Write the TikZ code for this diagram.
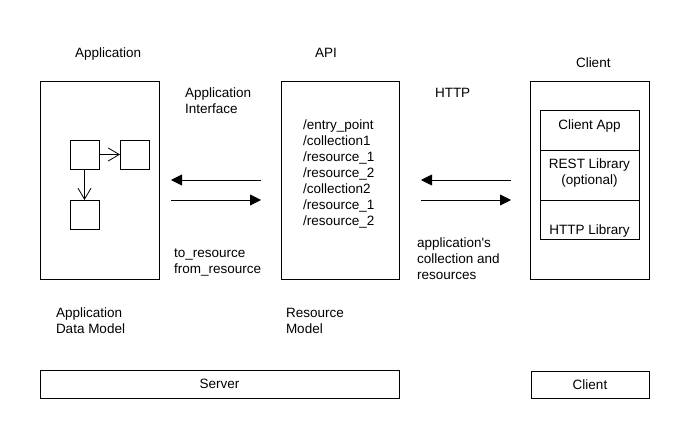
\documentclass[tikz,border=0pt]{standalone}
\usepackage{fontspec}
\setmainfont{Liberation Sans}
\usetikzlibrary{arrows.meta}
\begin{document}
\begin{tikzpicture}[x=1pt,y=-1pt,
  every node/.style={font=\fontsize{13.5}{16}\selectfont, inner sep=0pt, outer sep=0pt},
  box/.style={draw, line width=0.9pt, rectangle},
  lbl/.style={anchor=base west, align=left},
  link/.style={line width=0.9pt, -{Triangle[length=11pt,width=11pt]}},
  openlink/.style={line width=0.8pt, -{Straight Barb[length=11pt,width=13pt,line width=0.8pt]}}
]
\useasboundingbox (0,0) rectangle (696,435);

% main boxes
\node[box, minimum width=119pt, minimum height=198pt] (app) at (99.5,180) {};
\node[box, minimum width=118pt, minimum height=198pt] (api) at (340,180) {};
\node[box, minimum width=119pt, minimum height=198pt] (client) at (589.5,180) {};

% inner squares of application
\node[box, minimum width=29pt, minimum height=29pt] (s1) at (84.5,154.5) {};
\node[box, minimum width=29pt, minimum height=29pt] (s2) at (134.5,154.5) {};
\node[box, minimum width=29pt, minimum height=29pt] (s3) at (84.5,214.5) {};
\draw[openlink] (s1) -- (s2);
\draw[openlink] (s1) -- (s3);

% client stack
\node[box, minimum width=99pt, minimum height=40pt] (capp) at (589.5,130) {};
\node[box, minimum width=99pt, minimum height=50pt] (rest) at (589.5,175) {};
\node[box, minimum width=99pt, minimum height=39pt] (hlib) at (589.5,219.5) {};
\node (capptxt) at (589.5,126) {Client App};
\node[align=center] (resttxt) at (589.5,173) {REST Library\\(optional)};
\node (hlibtxt) at (589.5,231) {HTTP Library};

% API resource list (anchor = baseline of last line)
\node[lbl] (list) at (303,226) {/entry\_point\\/collection1\\/resource\_1\\/resource\_2\\/collection2\\/resource\_1\\/resource\_2};

% headings
\node[lbl] (happ) at (75,58) {Application};
\node[lbl] (hapi) at (315,58) {API};
\node[lbl] (hcli) at (576,68) {Client};
\node[lbl] (iface) at (185,114) {Application\\Interface};
\node[lbl] (http) at (435,98) {HTTP};

% arrows
\draw[link, shorten <=20pt, shorten >=12pt] (api.west) -- (app.east);
\draw[link, shorten <=12pt, shorten >=20pt] ([yshift=-20pt]app.east) -- ([yshift=-20pt]api.west);
\draw[link, shorten <=19pt, shorten >=22pt] (client.west) -- (api.east);
\draw[link, shorten <=22pt, shorten >=19pt] ([yshift=-20pt]api.east) -- ([yshift=-20pt]client.west);

% lower labels
\node[lbl] (conv) at (174,274) {to\_resource\\from\_resource};
\node[lbl] (coll) at (417,280) {application\textquotesingle s\\collection and\\resources};
\node[lbl] (adm) at (56,334) {Application\\Data Model};
\node[lbl] (rm) at (286,334) {Resource\\Model};

% bottom boxes
\node[box, minimum width=359pt, minimum height=28pt] (server) at (219.5,384) {Server};
\node[box, minimum width=118pt, minimum height=27pt] (clientb) at (590,384.5) {Client};
\end{tikzpicture}
\end{document}
